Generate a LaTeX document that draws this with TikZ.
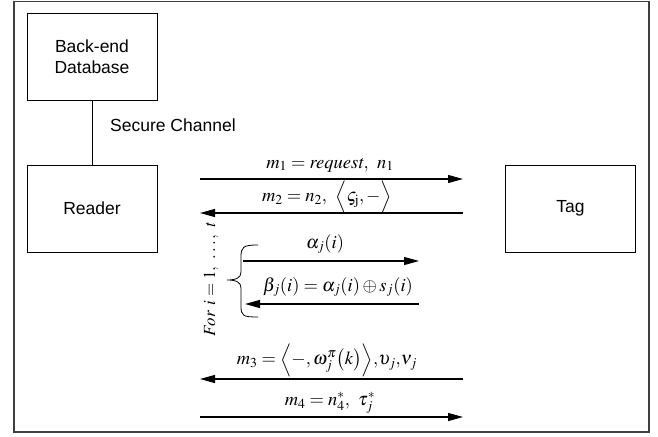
\documentclass[tikz,border=0pt]{standalone}
\usepackage{mathptmx}
\usepackage[no-math]{fontspec}
\setmainfont{Liberation Sans}
\usetikzlibrary{arrows.meta}
\tikzset{
  box/.style={draw, line width=0.9pt, minimum width=130pt, minimum height=87pt, inner sep=0pt, font=\fontsize{17.5}{21}\selectfont, align=center},
  msg/.style={line width=1.1pt, -{Triangle[length=15pt,width=8pt]}},
  lbl/.style={inner sep=0pt, font=\fontsize{18.5}{22}\selectfont},
}
\begin{document}
\begin{tikzpicture}[x=1pt,y=-1pt]
\useasboundingbox (0,0) rectangle (658,436);
\draw[line width=1.4pt, black!75] (14,1.5) rectangle (649,432);
\node[box] (db) at (92,56.5) {Back-end\\Database};
\node[box] (reader) at (92,208.5) {Reader};
\node[box] (tag) at (570.5,208.5) {Tag};
\draw[line width=0.9pt] (db) -- (reader);
\node[anchor=west, inner sep=0pt, font=\fontsize{17.5}{21}\selectfont] (sc) at (110,125) {Secure Channel};
% messages
\coordinate (a1) at (200,179); \coordinate (b1) at (463,179);
\coordinate (a2) at (200,213); \coordinate (b2) at (463,213);
\coordinate (a3) at (243,261); \coordinate (b3) at (419,261);
\coordinate (a4) at (245,304); \coordinate (b4) at (419,304);
\coordinate (a5) at (200,379); \coordinate (b5) at (463,379);
\coordinate (a6) at (200,417); \coordinate (b6) at (463,417);
\draw[msg] (a1) -- (b1);
\draw[msg] (b2) -- (a2);
\draw[msg] (a3) -- (b3);
\draw[msg] (b4) -- (a4);
\draw[msg] (b5) -- (a5);
\draw[msg] (a6) -- (b6);
\node[lbl] (l1) at (330,165) {$m_1 = \mathit{request},\;\, n_1$};
\node[lbl] (l2) at (327,197) {$m_2 = n_2,\;\, \Bigl\langle \varsigma_{\mathrm{j}}, {-} \Bigr\rangle$};
\node[lbl] (l3) at (325,244) {$\alpha_j(i)$};
\node[lbl] (l4) at (338,287) {$\beta_j(i) = \alpha_j(i) \oplus s_j(i)$};
\node[lbl] (l5) at (327,360) {$m_3 = \Bigl\langle {-}, \omega_j^{\pi}\bigl(k\bigr)\Bigr\rangle{,}\upsilon_j{,}\nu_j$};
\node[lbl] (l6) at (330,403) {$m_4 = n_4^*,\;\, \tau_j^*$};
% brace
\draw[line width=0.8pt] (258,245) .. controls (243,245) and (241,247) .. (241,257) -- (241,272) .. controls (241,278) and (236,280) .. (227,280) .. controls (236,280) and (241,282) .. (241,288) -- (241,306) .. controls (241,316) and (243,317) .. (258,317);
\node[lbl, rotate=90, font=\fontsize{17}{20}\selectfont] (loop) at (211,279) {$For\;\, i = 1,\;\, \ldots,\;\, t$};
\end{tikzpicture}
\end{document}
